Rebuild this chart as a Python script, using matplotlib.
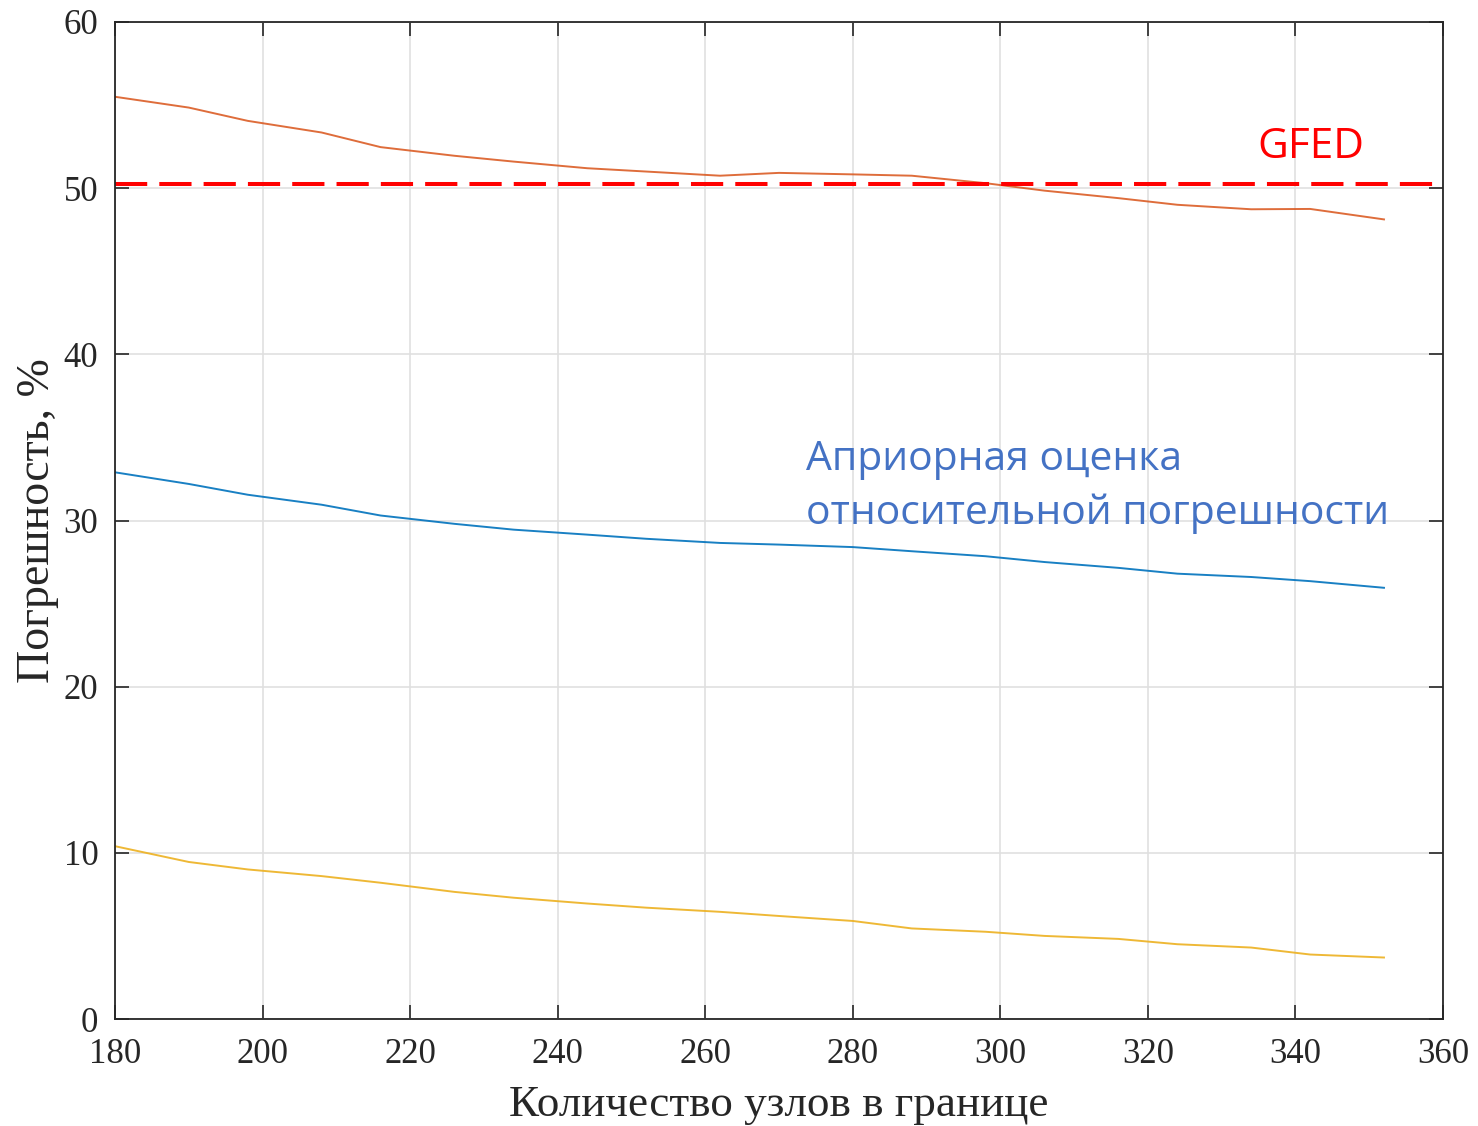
import numpy as np
import matplotlib.pyplot as plt

# number of nodes on the boundary
nodes = [180, 190, 198, 208, 216, 226, 234, 244, 252, 262,
         270, 280, 288, 298, 306, 316, 324, 334, 342, 352]

err_orange = [55.5, 54.85, 54.05, 53.35, 52.47, 51.95, 51.6, 51.2, 51.0, 50.75,
              50.92, 50.83, 50.75, 50.3, 49.85, 49.4, 49.0, 48.73, 48.75, 48.12]
err_blue = [32.9, 32.2, 31.55, 30.95, 30.3, 29.8, 29.45, 29.15, 28.9, 28.65,
            28.55, 28.4, 28.15, 27.85, 27.5, 27.15, 26.8, 26.6, 26.35, 25.95]
err_yellow = [10.4, 9.45, 9.0, 8.6, 8.2, 7.65, 7.3, 6.95, 6.7, 6.45,
              6.2, 5.9, 5.45, 5.25, 5.0, 4.82, 4.5, 4.3, 3.88, 3.7]

gfed_level = 50.25

xticks = np.arange(180, 361, 20)
yticks = np.arange(0, 61, 10)

serif = 'Liberation Serif'
sans = 'Open Sans'

fig = plt.figure(figsize=(14.78, 11.26), dpi=100)
ax = fig.add_axes([115/1478, 1 - 1019/1126, (1443 - 115)/1478, (1019 - 22)/1126])

ax.plot(nodes, err_orange, color='#D95319', lw=1.4, alpha=0.85)
ax.plot(nodes, err_blue, color='#0072BD', lw=1.4, alpha=0.9)
ax.plot(nodes, err_yellow, color='#EDB120', lw=1.4, alpha=0.9)
ax.axhline(gfed_level, color='#FF0000', lw=2.9, dashes=(8, 3), dash_capstyle='butt')

ax.set_xlim(180, 360)
ax.set_ylim(0, 60)
ax.set_xticks(xticks)
ax.set_yticks(yticks)
ax.grid(True, color='#e0e0e0', lw=1.2)
ax.set_axisbelow(True)
ax.tick_params(direction='in', length=10, width=1.2, top=True, right=True,
               labelsize=25, colors='#262626')
ax.tick_params(axis='x', pad=14)
ax.tick_params(axis='y', pad=12)
for lab in ax.get_xticklabels() + ax.get_yticklabels():
    lab.set_fontfamily(serif)
for s in ax.spines.values():
    s.set_linewidth(1.3)
    s.set_color('#262626')

ax.set_xlabel('Количество узлов в границе', fontsize=32.5, family=serif, color='#262626', labelpad=10)
ax.set_ylabel('Погрешность, %', fontsize=33, family=serif, color='#262626', labelpad=3)

ax.text(1311/1478, 1 - 147/1126, 'GFED', transform=fig.transFigure, color='#FF0000',
        fontsize=30.5, family=sans, ha='center', va='center')
ax.text(806/1478, 1 - 487/1126, 'Априорная оценка\nотносительной погрешности',
        transform=fig.transFigure, color='#4472C4', fontsize=29.4, family=sans,
        ha='left', va='center', linespacing=1.45)

plt.savefig('out.png', dpi=100)
